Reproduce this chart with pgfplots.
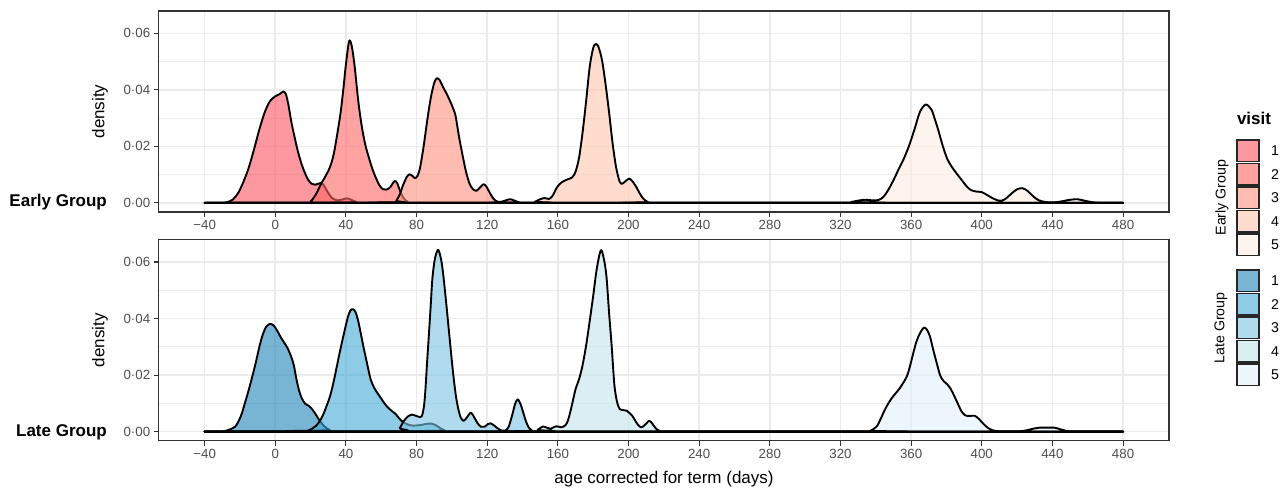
\documentclass[border=0pt]{standalone}
\usepackage{pgfplots}
\pgfplotsset{compat=1.18}
\usepackage{fontspec}
\setmainfont{Liberation Sans}
\definecolor{gridc}{HTML}{EBEBEB}
\definecolor{grey20}{HTML}{333333}
\definecolor{grey30}{HTML}{4D4D4D}
\definecolor{e1}{RGB}{252,83,97}
\definecolor{e2}{RGB}{255,100,100}
\definecolor{e3}{RGB}{255,143,123}
\definecolor{e4}{RGB}{255,197,173}
\definecolor{e5}{RGB}{255,235,227}
\definecolor{l1}{RGB}{30,132,185}
\definecolor{l2}{RGB}{65,168,213}
\definecolor{l3}{RGB}{123,195,227}
\definecolor{l4}{RGB}{195,227,237}
\definecolor{l5}{RGB}{227,240,252}
\newcommand\tickfont{\fontsize{13.3}{15}\selectfont}
\newcommand\legfont{\fontsize{14.2}{16}\selectfont}
\newcommand\titlefont{\fontsize{17}{19}\selectfont}
\pgfplotsset{
 panel/.style={
   scale only axis, width=1010.3pt, height=201pt,
   xmin=-66, xmax=506, ymin=-0.00323, ymax=0.0679,
   xtick={-40,0,40,80,120,160,200,240,280,320,360,400,440,480},
   xticklabels={−40,0,40,80,120,160,200,240,280,320,360,400,440,480},
   ytick={0,0.02,0.04,0.06},
   yticklabels={0·00,0·02,0·04,0·06},
   minor ytick={0.01,0.03,0.05},
   grid=both,
   major grid style={line width=1.6pt, draw=gridc},
   minor grid style={line width=0.8pt, draw=gridc},
   axis line style={line width=1.3pt, draw=grey20},
   tick style={line width=1.1pt, draw=grey20},
   tick align=outside, major tick length=5pt, minor tick length=0pt,
   tick pos=left,
   ticklabel style={font=\tickfont, text=grey30},
   scaled y ticks=false,
 },
 dens/.style={draw=black, line width=1.9pt, line join=round, fill=#1, fill opacity=0.6, smooth, tension=0.5},
}
\begin{document}
\begin{tikzpicture}[x=1pt,y=1pt]
\path (0,0) rectangle (1285,488);
% ---------------- Early group ----------------
\begin{axis}[panel, at={(158.7pt,276pt)}, anchor=south west]
\addplot[dens=e1] coordinates {(-40,0) (-30,0) (-27,0.0003) (-24,0.0012) (-21,0.0035) (-18,0.0075) (-15,0.0125) (-12,0.019) (-9,0.026) (-6,0.032) (-3,0.036) (0,0.0377) (2.5,0.0385) (4.5,0.0394) (6,0.0385) (7.5,0.0345) (9,0.029) (10.5,0.0245) (12.5,0.019) (14.5,0.0145) (16.5,0.011) (18.5,0.0083) (20.5,0.0068) (22.5,0.0064) (24.5,0.0068) (26,0.0071) (27.5,0.0062) (29.5,0.004) (32,0.0018) (35,0.0009) (38,0.0012) (40.5,0.0016) (43,0.0011) (46,0.0003) (50,0) (480,0)} \closedcycle;
\addplot[dens=e2] coordinates {(-40,0) (17,0) (20,0.0005) (23,0.003) (26,0.0068) (28.5,0.0095) (31,0.0127) (33,0.017) (35,0.024) (37,0.032) (38.5,0.04) (40,0.049) (41.8,0.0572) (43.3,0.0555) (45,0.048) (47,0.036) (49,0.027) (51,0.0205) (53,0.016) (55,0.012) (57,0.0088) (59,0.0062) (61,0.0048) (63,0.0047) (65,0.0055) (67.5,0.0077) (69,0.007) (70.5,0.0045) (72.5,0.0018) (75,0.0004) (78,0) (480,0)} \closedcycle;
\addplot[dens=e3] coordinates {(-40,0) (66,0) (68.5,0.0008) (70.5,0.003) (72.5,0.0065) (74.5,0.0092) (76,0.0101) (77.5,0.0096) (79,0.0088) (80.5,0.0095) (82,0.0125) (84,0.02) (86,0.029) (88,0.037) (90,0.0425) (91.5,0.0441) (93,0.0435) (95,0.041) (97.5,0.038) (100,0.0345) (102,0.031) (104,0.0235) (106,0.017) (108,0.011) (110,0.0068) (112,0.0048) (114,0.0043) (116,0.0055) (117.9,0.0066) (119.5,0.0058) (121.5,0.0035) (123.5,0.0015) (125.5,0.0005) (128,0.0004) (130.5,0.0009) (133,0.0013) (135.5,0.0008) (138,0.0002) (141,0) (480,0)} \closedcycle;
\addplot[dens=e4] coordinates {(-40,0) (144,0) (147,0.0004) (150,0.0013) (152.5,0.0017) (155,0.0014) (157,0.0025) (159.5,0.0055) (162,0.0072) (165,0.0082) (168,0.009) (170,0.011) (172,0.016) (174,0.025) (176,0.036) (178,0.048) (180,0.0548) (181.5,0.0562) (183,0.0552) (185,0.0505) (187,0.042) (189,0.032) (191,0.021) (193,0.0125) (195,0.0075) (196.5,0.0068) (198.5,0.0078) (200.5,0.0086) (202.5,0.0074) (204.5,0.0055) (206.5,0.0032) (208.5,0.0014) (211,0.0003) (214,0) (480,0)} \closedcycle;
\addplot[dens=e5] coordinates {(-40,0) (322,0) (326,0.0003) (330,0.0008) (334,0.0011) (338,0.0009) (341.5,0.001) (344.3,0.0021) (347,0.0045) (350,0.008) (353,0.012) (356,0.0158) (359,0.0205) (362,0.0262) (365,0.0322) (368.3,0.0348) (371.5,0.033) (373.5,0.0295) (375.5,0.0255) (378,0.02) (380.5,0.0155) (383,0.0128) (386,0.0102) (389,0.0078) (391.5,0.0058) (394,0.0045) (397,0.004) (400,0.0038) (403,0.0028) (406,0.0017) (409,0.0009) (411.5,0.0008) (414,0.0017) (417,0.0034) (420,0.0048) (423,0.0052) (426,0.0042) (429,0.0024) (432,0.001) (436,0.0003) (441,0.0002) (445,0.0005) (449,0.001) (454,0.0013) (458,0.0008) (463,0.0002) (468,0) (480,0)} \closedcycle;
\end{axis}
% ---------------- Late group ----------------
\begin{axis}[panel, at={(158.7pt,47.3pt)}, anchor=south west]
\addplot[dens=l1] coordinates {(-40,0) (-31,0) (-28,0.0003) (-25.5,0.0008) (-22.6,0.0018) (-20.5,0.004) (-18.9,0.0065) (-17,0.0105) (-15,0.0148) (-13,0.0195) (-11,0.0245) (-9,0.03) (-7,0.0345) (-5,0.0372) (-3,0.0381) (-1,0.0376) (1,0.0358) (3,0.0335) (5,0.0315) (7,0.0295) (9,0.0265) (10.5,0.0235) (12,0.0185) (13.5,0.0145) (15,0.0118) (17,0.0098) (19,0.0091) (21,0.0078) (23,0.006) (25,0.004) (27,0.0024) (29,0.0012) (31,0.0005) (34,0) (480,0)} \closedcycle;
\addplot[dens=l2] coordinates {(-40,0) (16,0) (19,0.0004) (22.6,0.0018) (25,0.0035) (27,0.0058) (29,0.009) (31,0.0125) (33,0.0175) (35,0.0235) (37,0.0295) (39,0.035) (41,0.0403) (42.5,0.0428) (44,0.0433) (45.5,0.0422) (47,0.039) (48.5,0.0345) (50,0.0298) (52,0.024) (54,0.0185) (56,0.0155) (58,0.0135) (60.5,0.0112) (63,0.009) (66,0.0073) (68,0.0063) (70,0.0048) (72,0.0035) (75,0.0025) (78,0.0021) (82,0.0023) (85.5,0.0027) (88.5,0.0028) (91,0.0022) (93.5,0.0012) (96,0.0004) (99,0) (480,0)} \closedcycle;
\addplot[dens=l3] coordinates {(-40,0) (68,0) (70.5,0.0012) (72.5,0.0035) (75,0.0053) (77.4,0.006) (79.5,0.0056) (81.5,0.0052) (83,0.0055) (84.2,0.009) (85,0.0147) (86,0.025) (87,0.0345) (88,0.0445) (89,0.0545) (90.5,0.0615) (92.3,0.0643) (94,0.0605) (95.2,0.055) (96.7,0.046) (98.1,0.037) (99.5,0.028) (100.9,0.0195) (102.3,0.0125) (103.7,0.0078) (105,0.005) (106.6,0.0038) (108.5,0.005) (110.7,0.0067) (112.5,0.0052) (114.5,0.003) (116.5,0.0017) (118.5,0.0017) (120.5,0.0027) (122,0.0029) (124,0.0021) (126,0.0011) (128,0.0004) (130,0.0003) (132,0.0015) (134,0.0055) (135.8,0.0098) (137.3,0.0114) (139,0.0095) (140.5,0.0065) (142,0.0035) (143.5,0.0015) (145.5,0.0003) (148,0) (480,0)} \closedcycle;
\addplot[dens=l4] coordinates {(-40,0) (146,0) (148.5,0.0006) (151.5,0.0018) (154,0.0013) (156,0.001) (159,0.0019) (162,0.0015) (164.5,0.0024) (166,0.0045) (168,0.0095) (170,0.015) (172,0.0185) (174,0.0235) (176,0.0305) (178,0.039) (180,0.048) (182,0.0575) (184.3,0.0642) (186,0.0612) (187.5,0.055) (189,0.042) (190.5,0.03) (192,0.0165) (193.5,0.0105) (195,0.008) (197,0.0076) (199,0.0074) (200.5,0.0066) (202,0.0057) (203.5,0.0042) (205,0.0027) (207,0.0015) (209,0.0022) (211.7,0.0038) (213.5,0.0028) (215.5,0.0011) (218,0.0001) (221,0) (480,0)} \closedcycle;
\addplot[dens=l5] coordinates {(-40,0) (334,0) (337,0.0003) (340.5,0.0018) (343,0.0048) (345.5,0.0082) (349,0.0118) (353.5,0.0153) (357.5,0.0194) (359.5,0.0235) (361.2,0.0277) (363,0.0318) (365,0.0348) (367.3,0.0368) (369,0.036) (370.7,0.0336) (372.5,0.029) (374.4,0.0245) (376.5,0.0198) (378.5,0.0178) (380.5,0.0167) (382.5,0.015) (384.5,0.0125) (386.5,0.0098) (388.5,0.0072) (390.5,0.0058) (393,0.0055) (396,0.0056) (398.5,0.0044) (401,0.0027) (403.5,0.0013) (406,0.0005) (409,0.0001) (412,0) (420,0) (425,0.0004) (429,0.001) (433,0.0014) (437,0.0014) (441,0.0014) (444,0.0009) (447,0.0004) (451,0) (480,0)} \closedcycle;
\end{axis}
% ---------------- outer labels ----------------
\node[anchor=base east, font=\titlefont\bfseries, inner sep=0pt] at (107,281) {Early Group};
\node[anchor=base east, font=\titlefont\bfseries, inner sep=0pt] at (107,51.3) {Late Group};
\node[rotate=90, font=\titlefont, inner sep=0pt] at (100,376.5) {density};
\node[rotate=90, font=\titlefont, inner sep=0pt] at (100,147.7) {density};
\node[anchor=base, font=\titlefont, inner sep=0pt] at (664,5) {age corrected for term (days)};
% ---------------- legend ----------------
\node[anchor=base, font=\titlefont\bfseries, inner sep=0pt] at (1254,363) {visit};
\node[rotate=90, font=\legfont, inner sep=0pt] at (1222,290.5) {Early Group};
\node[rotate=90, font=\legfont, inner sep=0pt] at (1221,160) {Late Group};
\foreach \i/\c in {0/e1,1/e2,2/e3,3/e4,4/e5} {
  \pgfmathsetmacro\yt{488-140-23.5*\i}
  \pgfmathsetmacro\yb{\yt-21.5}
  \pgfmathsetmacro\ym{\yt-10.75}
  \pgfmathtruncatemacro\n{\i+1}
  \fill[\c, fill opacity=0.6] (1237,\yb) rectangle (1259,\yt);
  \draw[line width=1.7pt, draw=black!85] (1237,\yb) rectangle (1259,\yt);
  \node[font=\legfont, inner sep=0pt] at (1275,\ym) {\n};
}
\foreach \i/\c in {0/l1,1/l2,2/l3,3/l4,4/l5} {
  \pgfmathsetmacro\yt{488-270-23.5*\i}
  \pgfmathsetmacro\yb{\yt-21.5}
  \pgfmathsetmacro\ym{\yt-10.75}
  \pgfmathtruncatemacro\n{\i+1}
  \fill[\c, fill opacity=0.6] (1237,\yb) rectangle (1259,\yt);
  \draw[line width=1.7pt, draw=black!85] (1237,\yb) rectangle (1259,\yt);
  \node[font=\legfont, inner sep=0pt] at (1275,\ym) {\n};
}
\end{tikzpicture}
\end{document}
